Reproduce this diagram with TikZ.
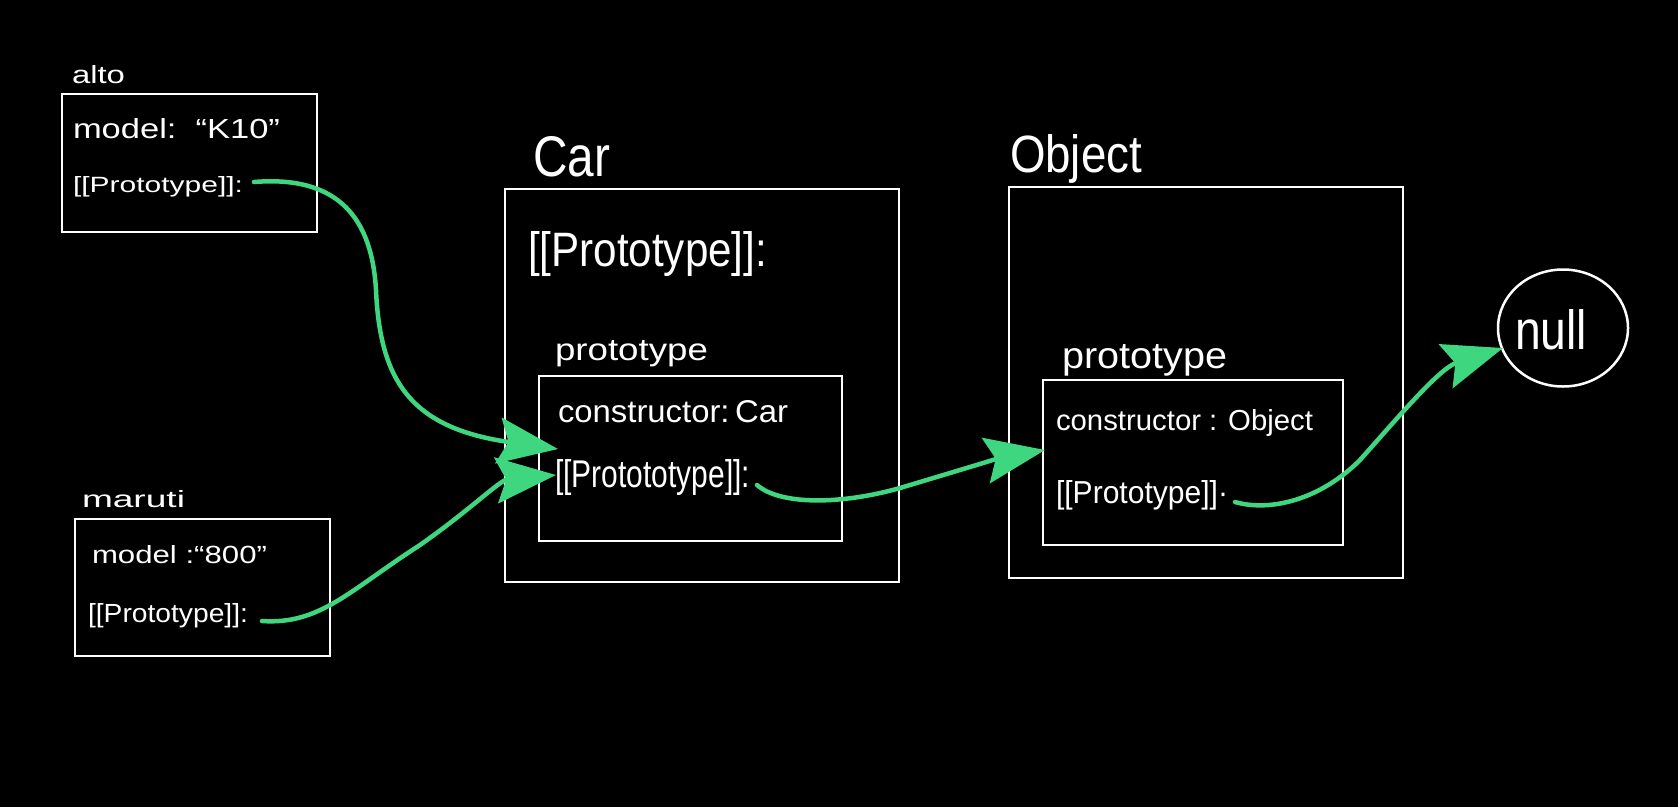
\documentclass[tikz,border=0pt]{standalone}
\usepackage{fontspec}
\setmainfont{Liberation Sans}
\usetikzlibrary{arrows.meta,shapes.geometric}
\definecolor{grn}{RGB}{62,214,126}
\newcommand{\fitwh}[3]{\resizebox{#1pt}{#2pt}{#3}}
\begin{document}
\begin{tikzpicture}[x=1pt,y=-1pt,
  box/.style={draw=white,line width=2.5pt,anchor=north west,inner sep=0pt,outer sep=0pt},
  txt/.style={text=white,anchor=base west,inner sep=0pt,outer sep=0pt},
  link/.style={draw=grn,line width=4.5pt,line cap=round,-{Stealth[length=60pt,width=46pt,inset=10pt]}},
]
\fill[black] (0,0) rectangle (1678,807);
\useasboundingbox (0,0) rectangle (1678,807);

% boxes
\node[box,minimum width=255pt,minimum height=138pt] (altobox) at (62,94) {};
\node[box,minimum width=255pt,minimum height=137pt] (marutibox) at (75,519) {};
\node[box,minimum width=394pt,minimum height=393pt] (carbox) at (505,189) {};
\node[box,minimum width=303pt,minimum height=165pt] (carproto) at (539,376) {};
\node[box,minimum width=394pt,minimum height=391pt] (objbox) at (1009,187) {};
\node[box,minimum width=300pt,minimum height=165pt] (objproto) at (1043,380) {};
\node[draw=white,line width=2.5pt,ellipse,minimum width=130pt,minimum height=117pt,inner sep=0pt] (nullc) at (1563,328) {};

% texts
\node[txt] (altolbl) at (72,83) {\fitwh{53}{18}{alto}};
\node[txt] (altomodel) at (73,138) {\fitwh{207}{20}{model:\ \ “K10”}};
\node[txt] (altoprot) at (73,192) {\fitwh{170}{16}{[[Prototype]]:}};

\node[txt] (marutilbl) at (82,507) {\fitwh{103}{17}{maruti}};
\node[txt] (marutimodel) at (92,563) {\fitwh{175}{18}{model :“800”}};
\node[txt] (marutiprot) at (88,622) {\fitwh{160}{19}{[[Prototype]]:}};

\node[txt] (carlbl) at (533,176) {\fitwh{77}{40}{Car}};
\node[txt] (carprot) at (528,266) {\fitwh{239}{35}{[[Prototype]]:}};
\node[txt] (carprotolbl) at (555,360) {\fitwh{153}{20}{prototype}};
\node[txt] (carctor) at (558,422) {\fitwh{230}{22}{constructor:\,Car}};
\node[txt] (carpp) at (555,487) {\fitwh{195}{28}{[[Protototype]]:}};

\node[txt] (objlbl) at (1010,172) {\fitwh{132}{38}{Object}};
\node[txt] (objprotolbl) at (1062,368) {\fitwh{165}{24}{prototype}};
\node[txt] (objctor) at (1056,430) {\fitwh{257}{21}{constructor : Object}};
\node[txt] (objpp) at (1056,503) {\fitwh{172}{23}{[[Prototype]]·}};

\node[txt] (nulltxt) at (1515,349) {\fitwh{72}{40}{null}};

% connector end points
\coordinate (a1) at (254,182);
\coordinate (a2) at (558,449);
\coordinate (b1) at (262,621);
\coordinate (b2) at (556,475);
\coordinate (c1) at (757,485);
\coordinate (c2) at (1045,450);
\coordinate (d1) at (1235,502);
\coordinate (d2) at (1503,348);

% connectors
\draw[link] (a1) .. controls (340,175) and (372,220) .. (376,290)
  .. controls (380,380) and (410,428) .. (a2);
\draw[link] (b1) .. controls (320,625) and (350,590) .. (420,545)
  .. controls (470,510) and (500,480) .. (b2);
\draw[link] (c1) .. controls (780,505) and (840,505) .. (900,488)
  .. controls (960,470) and (1000,458) .. (c2);
\draw[link] (d1) .. controls (1270,512) and (1320,500) .. (1360,460)
  .. controls (1400,415) and (1440,368) .. (d2);
\end{tikzpicture}
\end{document}
